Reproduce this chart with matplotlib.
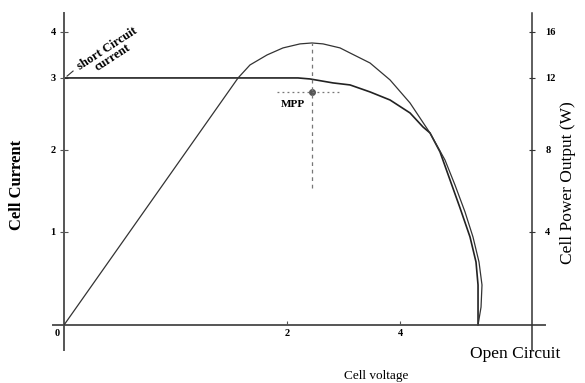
import numpy as np
import matplotlib.pyplot as plt

plt.rcParams['font.family'] = ['Liberation Serif', 'DejaVu Serif']

# uneven axis spacing: tick value -> distance (px) from the origin
volt_vals = [-10, 0, 2, 4, 10]
volt_pos = [-1115, 0, 223, 336, 675]
amp_vals = [-10, 0, 1, 2, 3, 4, 10]
amp_pos = [-930, 0, 93, 175, 247, 293, 569]
watt_vals = [-40, 0, 4, 8, 12, 16, 40]

# I-V characteristic
iv_volts = [0, 2.195, 2.407, 2.814, 3.115, 3.469, 3.823, 4.177, 4.407, 4.531,
            4.708, 4.885, 5.062, 5.239, 5.345, 5.381, 5.381, 5.381]
iv_amps = [3.0, 3.0, 2.986, 2.931, 2.903, 2.806, 2.694, 2.514, 2.319, 2.236,
           1.976, 1.634, 1.293, 0.946, 0.677, 0.43, 0.194, 0.0]

# power curve
p_volts = [0, 1.561, 1.668, 1.821, 1.964, 2.230, 2.442, 2.637, 2.938, 3.115,
           3.469, 3.823, 4.177, 4.531, 4.796, 4.973, 5.150, 5.292, 5.398,
           5.451, 5.434, 5.381]
p_watts = [0, 12.0, 13.13, 14.0, 14.61, 14.96, 15.04, 14.96, 14.61, 14.17,
           13.30, 11.89, 10.61, 8.94, 7.51, 6.29, 4.98, 3.78, 2.71,
           1.72, 0.77, 0.0]

mpp_v, mpp_i = 2.44, 2.8
v_open = 6.336


def scale_funcs(vals, pos):
    def fwd(v):
        return np.interp(v, vals, pos)

    def inv(p):
        return np.interp(p, pos, vals)
    return fwd, inv


fig = plt.figure(figsize=(5.85, 3.83), dpi=100)
ax = fig.add_axes([0.0906, 0.0862, 0.841, 0.880])
ax.set_xscale('function', functions=scale_funcs(volt_vals, volt_pos))
ax.set_yscale('function', functions=scale_funcs(amp_vals, amp_pos))
ax.set_xlim(-0.099, 6.566)
ax.set_ylim(-0.269, 4.413)

spine_col = '#555555'
for s in ['top', 'right']:
    ax.spines[s].set_visible(False)
ax.spines['left'].set_position(('data', 0))
ax.spines['bottom'].set_position(('data', 0))
for s in ['left', 'bottom']:
    ax.spines[s].set_color(spine_col)
    ax.spines[s].set_linewidth(1.4)

ax.set_xticks([2, 4])
ax.set_xticklabels(['2', '4'])
ax.set_yticks([1, 2, 3, 4])
ax.set_yticklabels(['1', '2', '3', '4'])
ax.tick_params(axis='x', direction='in', length=3, width=0.8, color=spine_col,
               labelsize=7.5, pad=3)
ax.tick_params(axis='y', direction='inout', length=6, width=0.8, color=spine_col,
               labelsize=7.5, pad=3)
for lab in ax.get_xticklabels() + ax.get_yticklabels():
    lab.set_fontweight('bold')
ax.text(0, 0, '0', fontsize=7.5, fontweight='bold', ha='right', va='top',
        transform=ax.transData + plt.matplotlib.transforms.ScaledTranslation(-3/72, -3/72, fig.dpi_scale_trans))

pw = ax.twinx()
pw.set_yscale('function', functions=scale_funcs(watt_vals, amp_pos))
pw.set_ylim(-1.075, 17.65)
for s in ['top', 'left', 'bottom']:
    pw.spines[s].set_visible(False)
pw.spines['right'].set_position(('data', v_open))
pw.spines['right'].set_color('#333333')
pw.spines['right'].set_linewidth(1.1)
pw.set_yticks([4, 8, 12, 16])
pw.set_yticklabels(['4', '8', '12', '16'])
pw.tick_params(axis='y', direction='inout', length=5, width=0.8, color='#333333',
               labelsize=7.5, pad=7)
for lab in pw.get_yticklabels():
    lab.set_fontweight('bold')

# curves
ax.plot(iv_volts, iv_amps, color='#222222', lw=1.2)
pw.plot(p_volts, p_watts, color='#333333', lw=0.9)

# maximum power point
ax.plot([mpp_v], [mpp_i], 'o', ms=4, color='#555555')
ax.plot([1.91, 2.94], [mpp_i, mpp_i], ls=(0, (1.5, 2.5)), color='#777777', lw=0.9)
pw.plot([mpp_v, mpp_v], [6.15, max(p_watts)], ls=(0, (3, 3)), color='#777777', lw=0.9)
ax.annotate('MPP', (mpp_v, mpp_i), xytext=(-14, -9), textcoords='offset points',
            ha='center', va='center', fontsize=8, fontweight='bold')

# short circuit note
ax.plot([0.027, 0.081], [3.04, 3.15], color='#333333', lw=0.8)
ax.annotate('short Circuit\ncurrent', (0, 3.0), xytext=(33, 18), textcoords='offset points',
            ha='center', va='center', rotation=33, fontsize=9, fontweight='bold',
            linespacing=0.9, rotation_mode='anchor')

fig.text(0.029, 1 - 185/383, 'Cell Current', rotation=90, ha='center', va='center',
         fontsize=12, fontweight='bold')
fig.text(568/585, 1 - 183/383, 'Cell Power Output (W)', rotation=90, ha='center',
         va='center', fontsize=12.5)
fig.text(515/585, 1 - 354/383, 'Open Circuit', ha='center', va='center', fontsize=12.5)
fig.text(376/585, 1 - 376/383, 'Cell voltage', ha='center', va='center', fontsize=9.5)

fig.savefig('out.png', dpi=100)
